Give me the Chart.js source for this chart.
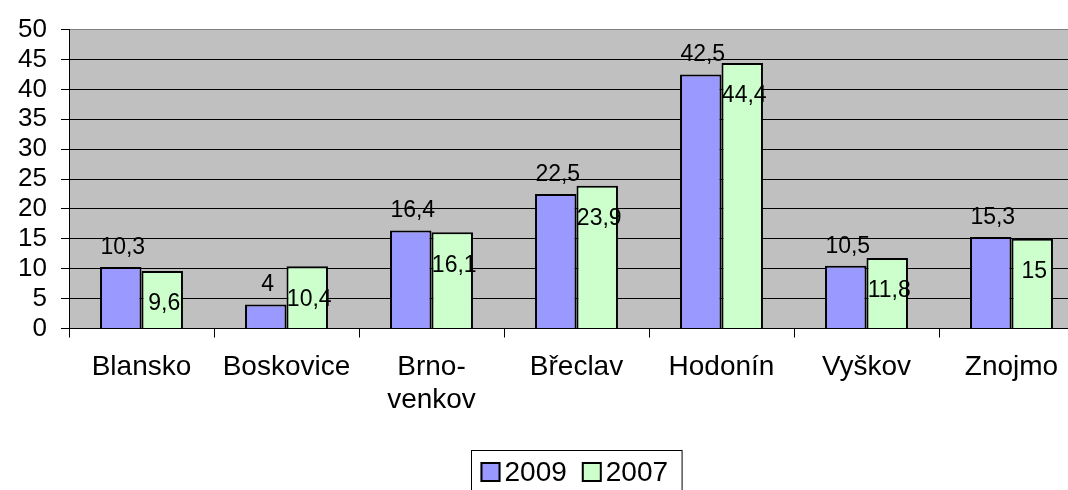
<!DOCTYPE html>
<html>
<head>
<meta charset="utf-8">
<script src="https://cdn.jsdelivr.net/npm/chart.js@4/dist/chart.umd.min.js"></script>
<style>
  html, body { margin: 0; padding: 0; background: #fff; overflow: hidden; }
  #wrap { width: 1152px; height: 490px; position: relative; }
</style>
</head>
<body>
<div id="wrap"><canvas id="districts_chart"></canvas></div>
<script>
// values
var districts = ['Blansko', 'Boskovice', ['Brno-', 'venkov'], 'Břeclav', 'Hodonín', 'Vyškov', 'Znojmo'];
var seriesNames = ['2009', '2007'];
var values2009 = [10.3, 4, 16.4, 22.5, 42.5, 10.5, 15.3];
var values2007 = [9.6, 10.4, 16.1, 23.9, 44.4, 11.8, 15];
var yTicks = [0, 5, 10, 15, 20, 25, 30, 35, 40, 45, 50];

var FONT = "'Liberation Sans', Arial, sans-serif";

function fmt(v) {
    return String(v).replace('.', ',');
}

var plotBackground = {
    id: 'plotBackground',
    beforeDraw: function (chart) {
        var a = chart.chartArea;
        var ctx = chart.ctx;
        ctx.save();
        ctx.fillStyle = '#C0C0C0';
        ctx.fillRect(a.left, a.top, a.right - a.left, a.bottom - a.top);
        ctx.restore();
    }
};

var barLabels = {
    id: 'barLabels',
    afterDatasetsDraw: function (chart) {
        var ctx = chart.ctx;
        ctx.save();
        ctx.font = '23px ' + FONT;
        ctx.fillStyle = '#000';
        ctx.textAlign = 'center';
        chart.data.datasets.forEach(function (ds, i) {
            var meta = chart.getDatasetMeta(i);
            meta.data.forEach(function (bar, j) {
                var text = fmt(ds.data[j]);
                if (i === 0) {
                    ctx.textBaseline = 'bottom';
                    ctx.fillText(text, bar.x + 2, bar.y - 8);
                } else {
                    ctx.textBaseline = 'middle';
                    ctx.fillText(text, bar.x + 2, bar.y + 33);
                }
            });
        });
        ctx.restore();
    }
};

var boxedLegend = {
    id: 'boxedLegend',
    afterDraw: function (chart) {
        var ctx = chart.ctx;
        var sw = 20, gap = 4, between = 15, padL = 9, padR = 14;
        ctx.save();
        ctx.font = '28px ' + FONT;
        var widths = chart.data.datasets.map(function (ds) { return ctx.measureText(ds.label).width; });
        var total = padL + padR;
        widths.forEach(function (w, i) { total += sw + gap + w + (i > 0 ? between : 0); });
        var left = Math.round(chart.width / 2 - total / 2) + 0.5;
        var top = 450.5;
        ctx.strokeStyle = '#000';
        ctx.lineWidth = 1;
        ctx.strokeRect(left, top, total, 60);
        var x = left + padL;
        var cy = 472;
        chart.data.datasets.forEach(function (ds, i) {
            ctx.fillStyle = ds.backgroundColor;
            ctx.fillRect(x, cy - sw / 2, sw, sw);
            ctx.lineWidth = 2;
            ctx.strokeRect(x + 1, cy - sw / 2 + 1, sw - 2, sw - 2);
            ctx.fillStyle = '#000';
            ctx.textAlign = 'left';
            ctx.textBaseline = 'middle';
            ctx.fillText(ds.label, x + sw + gap, cy + 1);
            x += sw + gap + widths[i] + between;
        });
        ctx.restore();
    }
};

function drawDistrictBarChart() {
    var element = document.getElementById('districts_chart');
    if (!element) {
        return;
    }

    var config = {
        type: 'bar',
        data: {
            labels: districts,
            datasets: [{
                label: seriesNames[0],
                data: values2009,
                backgroundColor: '#9999FF',
                borderColor: '#000',
                borderWidth: 2
            }, {
                label: seriesNames[1],
                data: values2007,
                backgroundColor: '#CCFFCC',
                borderColor: '#000',
                borderWidth: 2
            }]
        },
        options: {
            responsive: true,
            maintainAspectRatio: false,
            animation: false,
            devicePixelRatio: 1,
            datasets: {
                bar: {
                    categoryPercentage: 0.572,
                    barPercentage: 1
                }
            },
            layout: {
                padding: { left: 0, top: 23, right: 68, bottom: 0 }
            },
            plugins: {
                legend: { display: false },
                tooltip: { enabled: false }
            },
            scales: {
                x: {
                    offset: true,
                    grid: {
                        offset: true,
                        drawOnChartArea: false,
                        drawTicks: true,
                        tickLength: 9,
                        tickColor: '#000'
                    },
                    border: { color: '#000', width: 1 },
                    ticks: {
                        color: '#000',
                        padding: 14,
                        maxRotation: 0,
                        autoSkip: false,
                        font: { family: FONT, size: 28, lineHeight: 1.15 }
                    },
                    afterFit: function (scale) {
                        scale.height = 490 - 328.5;
                    }
                },
                y: {
                    min: 0,
                    max: 50,
                    afterBuildTicks: function (scale) {
                        scale.ticks = yTicks.map(function (v) { return { value: v }; });
                    },
                    grid: {
                        color: function (c) {
                            return c.tick && c.tick.value === 50 ? '#808080' : '#000';
                        },
                        lineWidth: 1,
                        drawTicks: true,
                        tickLength: 8,
                        tickColor: '#000'
                    },
                    border: { color: '#000', width: 1 },
                    ticks: {
                        color: '#000',
                        padding: 14,
                        autoSkip: false,
                        font: { family: FONT, size: 26 }
                    },
                    afterFit: function (scale) {
                        scale.width = 69;
                    }
                }
            }
        },
        plugins: [plotBackground, barLabels, boxedLegend]
    };

    new Chart(element, config);
}

drawDistrictBarChart();
</script>
</body>
</html>
